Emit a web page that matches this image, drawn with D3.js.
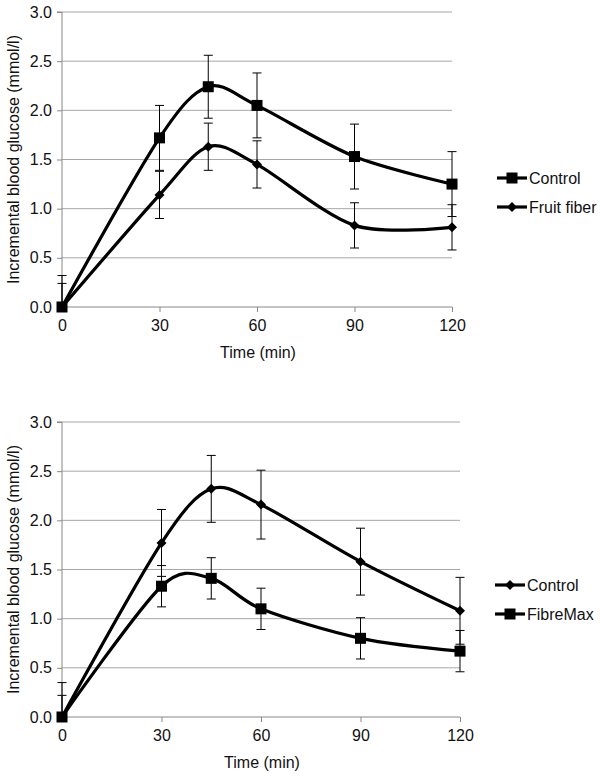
<!DOCTYPE html>
<html>
<head>
<meta charset="utf-8">
<script src="https://cdn.jsdelivr.net/npm/d3@7"></script>
<style>
  html, body { margin: 0; padding: 0; background: #fff; }
  svg { display: block; font-family: "Liberation Sans", Arial, sans-serif; }
</style>
</head>
<body>
<div id="chart"></div>
<script>
// Time points (min)
const times = [0, 30, 45, 60, 90, 120];
const xTicks = [0, 30, 60, 90, 120];
const yTicks = [0, 0.5, 1.0, 1.5, 2.0, 2.5, 3.0];

// Top panel
const topControl = [0, 1.72, 2.24, 2.05, 1.53, 1.25];
const topControlErr = [0.32, 0.33, 0.32, 0.33, 0.33, 0.33];
const topFruit = [0, 1.14, 1.63, 1.45, 0.83, 0.81];
const topFruitErr = [0.24, 0.24, 0.24, 0.24, 0.23, 0.23];

// Bottom panel
const botControl = [0, 1.77, 2.32, 2.16, 1.58, 1.08];
const botControlErr = [0.35, 0.34, 0.34, 0.35, 0.34, 0.34];
const botFibre = [0, 1.33, 1.41, 1.10, 0.80, 0.67];
const botFibreErr = [0.22, 0.21, 0.21, 0.21, 0.21, 0.21];

const W = 600, H = 777;
const FS = 16;
const svg = d3.select('#chart').append('svg')
    .attr('width', W)
    .attr('height', H);

const panels = [
    {
        id: 'top', x0: 62, x1: 452, y0: 307, y1: 12,
        legendX: 497, legendY: 178,
        series: [
            { name: 'Control', values: topControl, err: topControlErr, marker: 'square' },
            { name: 'Fruit fiber', values: topFruit, err: topFruitErr, marker: 'diamond' }
        ]
    },
    {
        id: 'bot', x0: 62, x1: 460, y0: 717, y1: 422,
        legendX: 495, legendY: 585,
        series: [
            { name: 'Control', values: botControl, err: botControlErr, marker: 'diamond' },
            { name: 'FibreMax', values: botFibre, err: botFibreErr, marker: 'square' }
        ]
    }
];

function drawMarker(g, type, cx, cy) {
    if (type === 'square') {
        g.append('rect')
            .attr('x', cx - 5.5).attr('y', cy - 5.5)
            .attr('width', 11).attr('height', 11)
            .attr('fill', '#000');
    } else {
        g.append('path')
            .attr('d', `M${cx},${cy - 5} L${cx + 5},${cy} L${cx},${cy + 5} L${cx - 5},${cy} Z`)
            .attr('fill', '#000');
    }
}

panels.forEach(p => {
    const x = d3.scaleLinear().domain([0, 120]).range([p.x0, p.x1]);
    const y = d3.scaleLinear().domain([0, 3]).range([p.y0, p.y1]);
    const g = svg.append('g');

    // Clip for error bars
    svg.append('defs').append('clipPath')
        .attr('id', 'clip-' + p.id)
        .append('rect')
        .attr('x', p.x0 - 10).attr('y', p.y1)
        .attr('width', p.x1 - p.x0 + 20).attr('height', p.y0 - p.y1);

    // Gridlines
    g.selectAll('.grid')
        .data(yTicks.filter(d => d > 0))
        .enter().append('line')
        .attr('x1', p.x0).attr('x2', p.x1)
        .attr('y1', d => y(d)).attr('y2', d => y(d))
        .attr('stroke', '#a6a6a6')
        .attr('stroke-width', 1);

    // Y axis
    const yAxis = d3.axisLeft(y)
        .tickValues(yTicks)
        .tickFormat(d3.format('.1f'))
        .tickSize(5)
        .tickPadding(5);
    const ya = g.append('g')
        .attr('transform', `translate(${p.x0},0)`)
        .call(yAxis);
    ya.select('.domain').attr('stroke', '#888').attr('d', `M-5,${p.y1}H0V${p.y0}H-5`);
    ya.selectAll('.tick line').attr('stroke', '#888');
    ya.selectAll('.tick text').attr('font-size', FS).attr('fill', '#111')
        .attr('font-family', '"Liberation Sans", Arial, sans-serif');

    // X axis
    const xAxis = d3.axisBottom(x)
        .tickValues(xTicks)
        .tickSize(5)
        .tickPadding(8);
    const xa = g.append('g')
        .attr('transform', `translate(0,${p.y0})`)
        .call(xAxis);
    xa.select('.domain').attr('stroke', '#888').attr('d', `M${p.x0},0H${p.x1}`);
    xa.selectAll('.tick line').attr('stroke', '#888');
    xa.selectAll('.tick text').attr('font-size', FS).attr('fill', '#111')
        .attr('font-family', '"Liberation Sans", Arial, sans-serif');

    // Axis titles
    g.append('text')
        .attr('x', (p.x0 + p.x1) / 2 + 1)
        .attr('y', p.y0 + 51)
        .attr('text-anchor', 'middle')
        .attr('font-size', FS)
        .attr('fill', '#111')
        .text('Time (min)');

    g.append('text')
        .attr('transform', `translate(19,${(p.y0 + p.y1) / 2}) rotate(-90)`)
        .attr('text-anchor', 'middle')
        .attr('font-size', FS)
        .attr('fill', '#111')
        .text('Incremental blood glucose (mmol/l)');

    // Error bars
    const eg = g.append('g').attr('clip-path', `url(#clip-${p.id})`);
    p.series.forEach(s => {
        times.forEach((t, i) => {
            const cx = x(t);
            const hi = y(s.values[i] + s.err[i]);
            const lo = y(s.values[i] - s.err[i]);
            eg.append('line')
                .attr('x1', cx).attr('x2', cx)
                .attr('y1', hi).attr('y2', lo)
                .attr('stroke', '#000').attr('stroke-width', 1);
            [hi, lo].forEach(yy => {
                eg.append('line')
                    .attr('x1', cx - 4.5).attr('x2', cx + 4.5)
                    .attr('y1', yy).attr('y2', yy)
                    .attr('stroke', '#000').attr('stroke-width', 1);
            });
        });
    });

    // Lines and markers
    const line = d3.line()
        .x((d, i) => x(times[i]))
        .y(d => y(d))
        .curve(d3.curveCardinal.tension(0.1));

    p.series.forEach(s => {
        g.append('path')
            .datum(s.values)
            .attr('d', line)
            .attr('fill', 'none')
            .attr('stroke', '#000')
            .attr('stroke-width', 3.2);
        const mg = g.append('g');
        s.values.forEach((v, i) => drawMarker(mg, s.marker, x(times[i]), y(v)));
    });

    // Legend
    p.series.forEach((s, i) => {
        const ly = p.legendY + i * 29;
        const lg = g.append('g');
        lg.append('line')
            .attr('x1', p.legendX).attr('x2', p.legendX + 30)
            .attr('y1', ly).attr('y2', ly)
            .attr('stroke', '#000').attr('stroke-width', 3.2);
        drawMarker(lg, s.marker, p.legendX + 15, ly);
        lg.append('text')
            .attr('x', p.legendX + 32)
            .attr('y', ly)
            .attr('dy', '0.35em')
            .attr('font-size', FS)
            .attr('fill', '#111')
            .text(s.name);
    });
});
</script>
</body>
</html>
